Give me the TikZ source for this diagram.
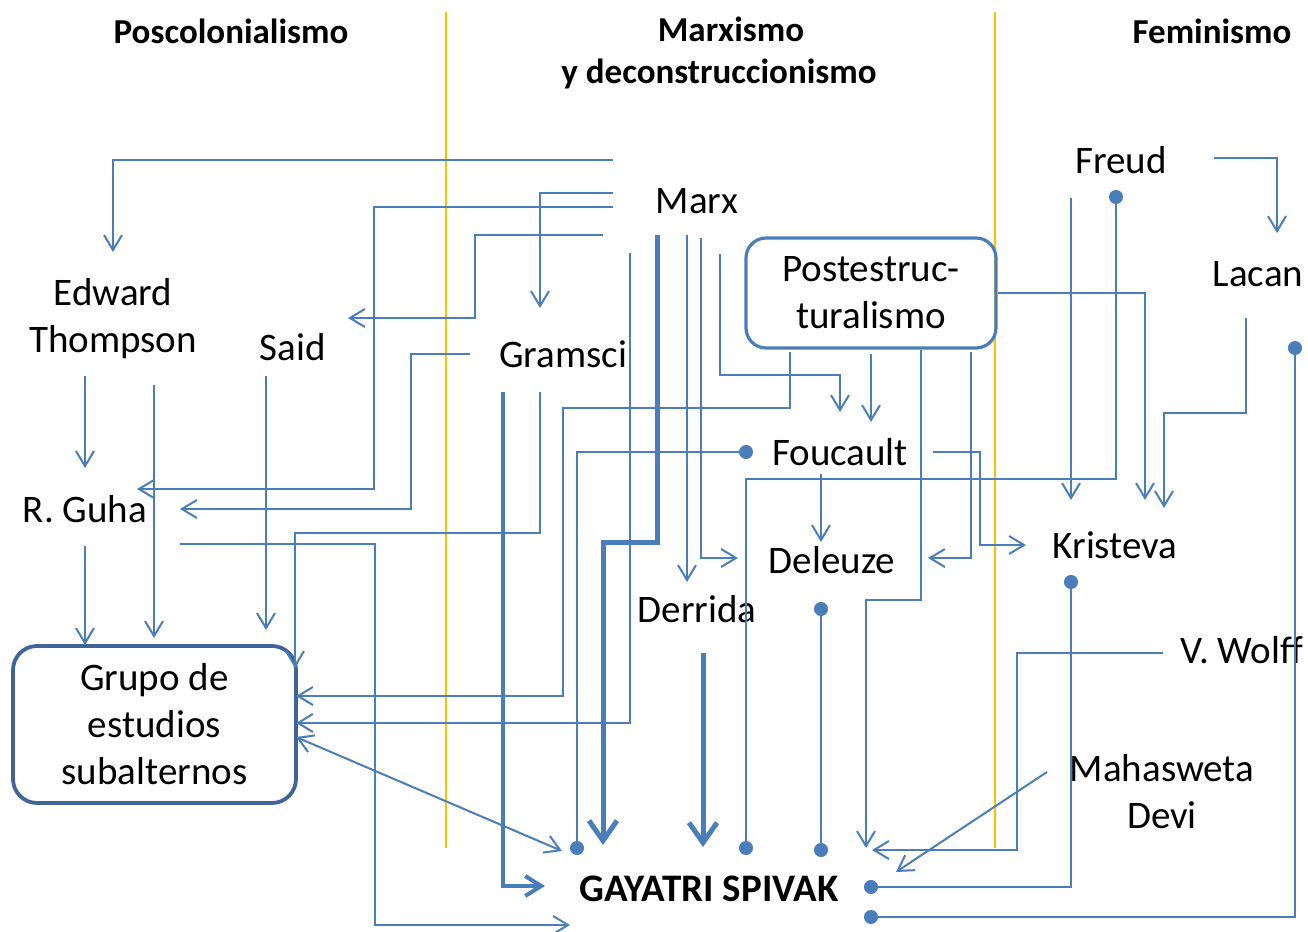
\documentclass[tikz,border=0pt]{standalone}
\usepackage{fontspec}
\setmainfont{Carlito}
\usetikzlibrary{arrows.meta}
\definecolor{lnkblue}{RGB}{74,126,187}
\definecolor{boxblue}{RGB}{64,100,152}
\definecolor{divgold}{RGB}{255,192,0}
\tikzset{
  lbl/.style={font=\fontsize{19.5}{23.5}\selectfont, inner sep=0pt, align=center},
  head/.style={font=\fontsize{17.5}{21}\selectfont\bfseries, inner sep=0pt, align=center},
  lnk/.style={draw=lnkblue, line width=1pt},
  arr/.style={lnk, -{Straight Barb[length=7.5pt,width=9pt]}},
  twoarr/.style={lnk, {Straight Barb[length=7.5pt,width=9pt]}-{Straight Barb[length=7.5pt,width=9pt]}},
  dotlink/.style={lnk, {Circle[length=7pt]}-{Circle[length=7pt]}},
  midarr/.style={draw=lnkblue, line width=2pt, -{Straight Barb[length=8pt,width=10pt]}},
  bigarr/.style={draw=lnkblue, line width=2.5pt, -{Straight Barb[length=10pt,width=14pt]}},
  divider/.style={draw=divgold, line width=0.6pt}
}
\begin{document}
\begin{tikzpicture}[x=0.5pt,y=-0.5pt]
  \useasboundingbox (0,0) rectangle (1308,932);
  % column headers and dividers
  \node[head] (poscol) at (231,31) {Poscolonialismo};
  \node[head] (marxismo) at (719,53) {\hspace*{12pt}Marxismo\\y deconstruccionismo};
  \node[head] (feminismo) at (1212,31) {Feminismo};
  \draw[divider] (446,12) -- (446,848);
  \draw[divider] (995,12) -- (995,848);
  % authors
  \node[lbl, anchor=base] (marx) at (697,213) {Marx};
  \node[lbl] (thompson) at (113,319) {Edward\\Thompson};
  \node[lbl, anchor=base] (said) at (293,360) {Said};
  \node[lbl, anchor=base] (gramsci) at (563,367) {Gramsci};
  \node[lbl, anchor=base] (guha) at (85,522) {R. Guha};
  \node[lbl, draw=lnkblue, line width=1.6pt, rounded corners=10pt,
        minimum width=125pt, minimum height=55pt] (postes) at (871,293) {Postestruc-\\turalismo};
  \node[lbl, anchor=base] (foucault) at (840,465) {Foucault};
  \node[lbl, anchor=base] (deleuze) at (832,573) {Deleuze};
  \node[lbl, anchor=base] (derrida) at (697,622) {Derrida};
  \node[lbl, anchor=base] (freud) at (1121,173) {Freud};
  \node[lbl, anchor=base] (lacan) at (1258,286) {Lacan};
  \node[lbl, anchor=base] (kristeva) at (1115,558) {Kristeva};
  \node[lbl, anchor=base] (wolff) at (1242,663) {V. Wolff};
  \node[lbl] (mahasweta) at (1162,792) {Mahasweta\\Devi};
  \node[lbl, draw=boxblue, line width=1.9pt, rounded corners=12pt,
        minimum width=141.5pt, minimum height=78.5pt] (grupo) at (154.5,724.5) {Grupo de\\estudios\\subalternos};
  \node[lbl, anchor=base, font=\fontsize{19.5}{23.5}\selectfont\bfseries] (spivak) at (709,901) {GAYATRI SPIVAK};
  % connector ends
  \path (613,160) coordinate (marx-o1) (613,193) coordinate (marx-o2)
        (613,207) coordinate (marx-o3) (603,235) coordinate (marx-o4)
        (630,253) coordinate (marx-o5) (657,235) coordinate (marx-o6)
        (687,235) coordinate (marx-o7) (701,238) coordinate (marx-o8)
        (720,254) coordinate (marx-o9)
        (470,354) coordinate (gramsci-o1) (540,392) coordinate (gramsci-o2)
        (503,392) coordinate (gramsci-o3)
        (85,376) coordinate (thompson-o1) (154,385) coordinate (thompson-o2)
        (266,376) coordinate (said-o)
        (85,546) coordinate (guha-o1) (180,544) coordinate (guha-o2)
        (790,352) coordinate (postes-o1) (871,354) coordinate (postes-o2)
        (921,350) coordinate (postes-o3) (971,352) coordinate (postes-o4)
        (753,452) coordinate (foucault-o1) (821,474) coordinate (foucault-o2)
        (933,452) coordinate (foucault-o3)
        (1214,158) coordinate (freud-o1) (1071,198) coordinate (freud-o2)
        (1116,190) coordinate (freud-o3)
        (1246,318) coordinate (lacan-o1) (1295,341) coordinate (lacan-o2)
        (821,602) coordinate (deleuze-o) (703,653) coordinate (derrida-o)
        (1071,575) coordinate (kristeva-o) (1163,653) coordinate (wolff-o)
        (1047,772) coordinate (mahasweta-o) (296,737) coordinate (grupo-io);
  \path (113,252) coordinate (thompson-in) (540,308) coordinate (gramsci-in)
        (348,318) coordinate (said-in) (137,489) coordinate (guha-in1)
        (180,509) coordinate (guha-in2) (85,468) coordinate (guha-in0)
        (154,638) coordinate (grupo-ina) (266,630) coordinate (grupo-inb)
        (85,645) coordinate (grupo-inc) (295,668) coordinate (grupo-in1)
        (296,696) coordinate (grupo-in2) (296,723) coordinate (grupo-in3)
        (687,582) coordinate (derrida-in) (738,558) coordinate (deleuze-in1)
        (928,558) coordinate (deleuze-in2) (821,542) coordinate (deleuze-in3)
        (840,412) coordinate (foucault-in1) (871,422) coordinate (foucault-in2)
        (1026,545) coordinate (kristeva-in1) (1145,500) coordinate (kristeva-in2)
        (1071,500) coordinate (kristeva-in3) (1164,508) coordinate (kristeva-in4)
        (1277,233) coordinate (lacan-in)
        (545,886) coordinate (spivak-in1) (603,845) coordinate (spivak-in2)
        (703,847) coordinate (spivak-in3) (562,851) coordinate (spivak-in4)
        (570,925) coordinate (spivak-in5) (866,848) coordinate (spivak-in6)
        (872,850) coordinate (spivak-in7) (896,872) coordinate (spivak-in8)
        (577,855) coordinate (spivak-d1) (746,855) coordinate (spivak-d2)
        (821,857) coordinate (spivak-d3) (864,917) coordinate (spivak-d4)
        (864,887) coordinate (spivak-d5);
  % Marx
  \draw[arr] (marx-o1) -| (thompson-in);
  \draw[arr] (marx-o2) -| (gramsci-in);
  \draw[arr] (marx-o3) -| (374,489) -- (guha-in1);
  \draw[arr] (marx-o4) -| (475,318) -- (said-in);
  \draw[arr] (marx-o5) |- (grupo-in3);
  \draw[bigarr] (marx-o6) |- (603,542) -- (spivak-in2);
  \draw[arr] (marx-o7) -- (derrida-in);
  \draw[arr] (marx-o8) |- (deleuze-in1);
  \draw[arr] (marx-o9) |- (840,375) -- (foucault-in1);
  % Gramsci
  \draw[arr] (gramsci-o1) -| (411,509) -- (guha-in2);
  \draw[arr] (gramsci-o2) |- (295,533) -- (grupo-in1);
  \draw[midarr] (gramsci-o3) |- (spivak-in1);
  % Poscolonialismo
  \draw[arr] (thompson-o1) -- (guha-in0);
  \draw[arr] (thompson-o2) -- (grupo-ina);
  \draw[arr] (said-o) -- (grupo-inb);
  \draw[arr] (guha-o1) -- (grupo-inc);
  \draw[arr] (guha-o2) -| (375,925) -- (spivak-in5);
  \draw[twoarr] (grupo-io) -- (spivak-in4);
  % Postestructuralismo
  \draw[arr] (postes-o1) |- (563,408) |- (grupo-in2);
  \draw[arr] (postes-o2) -- (foucault-in2);
  \draw[arr] (postes-o3) |- (866,600) -- (spivak-in6);
  \draw[arr] (postes-o4) |- (deleuze-in2);
  \draw[arr] (postes.east) -| (kristeva-in2);
  % Foucault, Deleuze, Derrida
  \draw[dotlink] (foucault-o1) -| (spivak-d1);
  \draw[arr] (foucault-o2) -- (deleuze-in3);
  \draw[arr] (foucault-o3) -| (980,545) -- (kristeva-in1);
  \draw[dotlink] (deleuze-o) -- (spivak-d3);
  \draw[bigarr] (derrida-o) -- (spivak-in3);
  % Feminismo
  \draw[arr] (freud-o1) -| (lacan-in);
  \draw[arr] (freud-o2) -- (kristeva-in3);
  \draw[dotlink] (freud-o3) |- (746,479) -- (spivak-d2);
  \draw[arr] (lacan-o1) |- (1164,413) -- (kristeva-in4);
  \draw[dotlink] (lacan-o2) |- (spivak-d4);
  \draw[dotlink] (kristeva-o) |- (spivak-d5);
  \draw[arr] (wolff-o) -| (1017,850) -- (spivak-in7);
  \draw[arr] (mahasweta-o) -- (spivak-in8);
\end{tikzpicture}
\end{document}
